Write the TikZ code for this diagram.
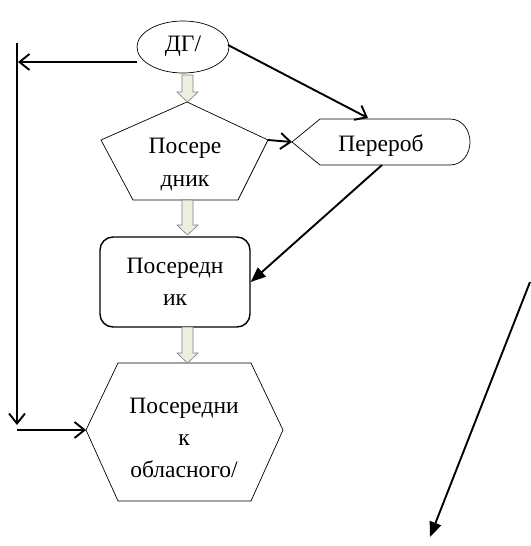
\documentclass[tikz,border=0pt]{standalone}
\usepackage{fontspec}
\setmainfont{Liberation Serif}
\usetikzlibrary{arrows.meta,shapes.geometric}
\definecolor{fatfill}{HTML}{EBF1DE}
\definecolor{fatdraw}{HTML}{7F7F7F}
\begin{document}
\begin{tikzpicture}[x=1pt,y=-1pt,
  shapeline/.style={draw=black,line width=0.7pt},
  txt/.style={inner sep=0pt,anchor=base,font=\fontsize{23.5}{27}\selectfont},
  thickline/.style={line width=1.9pt},
  barb/.style={thickline,-{Straight Barb[length=10pt,width=16pt,line width=1.9pt]}},
  solidtip/.style={thickline,-{Triangle[length=15pt,width=12pt]}},
  fatarrow/.style={fill=fatfill,draw=fatdraw,line width=0.6pt}]
\useasboundingbox (0,0) rectangle (530,546);
% ellipse
\node[ellipse,shapeline,minimum width=92pt,minimum height=52pt,inner sep=0pt] (ell) at (183,47) {};
\node[txt] (tell) at (183,51) {ДГ/};
% pentagon
\coordinate (pT) at (187,102);
\coordinate (pL) at (101,140);
\coordinate (pR) at (268,140);
\coordinate (pBR) at (238,200);
\coordinate (pBL) at (133,200);
\draw[shapeline] (pT) -- (pR) -- (pBR) -- (pBL) -- (pL) -- cycle;
\node[txt] (tp1) at (185,153) {Посере};
\node[txt] (tp2) at (185,186) {дник};
% display shape
\coordinate (dL) at (292,142);
\coordinate (dTL) at (320,119);
\coordinate (dTR) at (450,119);
\coordinate (dBR) at (450,165);
\coordinate (dBL) at (320,165);
\coordinate (dT) at (368,118);
\coordinate (dB) at (382,165);
\draw[shapeline] (dL) -- (dTL) -- (dTR) .. controls (463,119) and (470,131) .. (470,142) .. controls (470,153) and (463,165) .. (dBR) -- (dBL) -- cycle;
\node[txt] (td) at (381,151) {Перероб};
% rounded rectangle
\node[draw,line width=1.4pt,rounded corners=13pt,minimum width=150pt,minimum height=90pt] (rect) at (175,282) {};
\node[txt] (tr1) at (175,273) {Посередн};
\node[txt] (tr2) at (175,305) {ик};
% hexagon
\coordinate (hL) at (86,430);
\coordinate (hTL) at (118,363);
\coordinate (hTR) at (251,363);
\coordinate (hR) at (283,430);
\coordinate (hBR) at (251,501);
\coordinate (hBL) at (118,501);
\draw[shapeline] (hL) -- (hTL) -- (hTR) -- (hR) -- (hBR) -- (hBL) -- cycle;
\node[txt] (th1) at (184,413) {Посередни};
\node[txt] (th2) at (184,445) {к};
\node[txt] (th3) at (184,477) {обласного/};
% fat arrows
\draw[fatarrow] (182,75) -- (193,75) -- (193,92) -- (198,92) -- (187.5,102) -- (177,92) -- (182,92) -- cycle;
\draw[fatarrow] (182,200) -- (193,200) -- (193,225) -- (198,225) -- (187.5,235) -- (177,225) -- (182,225) -- cycle;
\draw[fatarrow] (182,327) -- (193,327) -- (193,353) -- (198,353) -- (187.5,363) -- (177,353) -- (182,353) -- cycle;
% connectors
\coordinate (eW) at (137,62);
\coordinate (vTop) at (17,43);
\coordinate (vBot) at (17,425);
\coordinate (vCorner) at (17,430);
\coordinate (vL) at (18,62);
\coordinate (eE) at (228,45);
\draw[barb] (eW) -- (vL);
\draw[barb] (vTop) -- (vBot);
\draw[barb] (vCorner) -- (hL);
\draw[barb] (eE) -- (dT);
\draw[barb] (pR) -- (dL);
\draw[solidtip] (dB) -- (rect.east);
\coordinate (lStart) at (530,282);
\coordinate (lEnd) at (430,537);
\draw[solidtip] (lStart) -- (lEnd);
\end{tikzpicture}
\end{document}
